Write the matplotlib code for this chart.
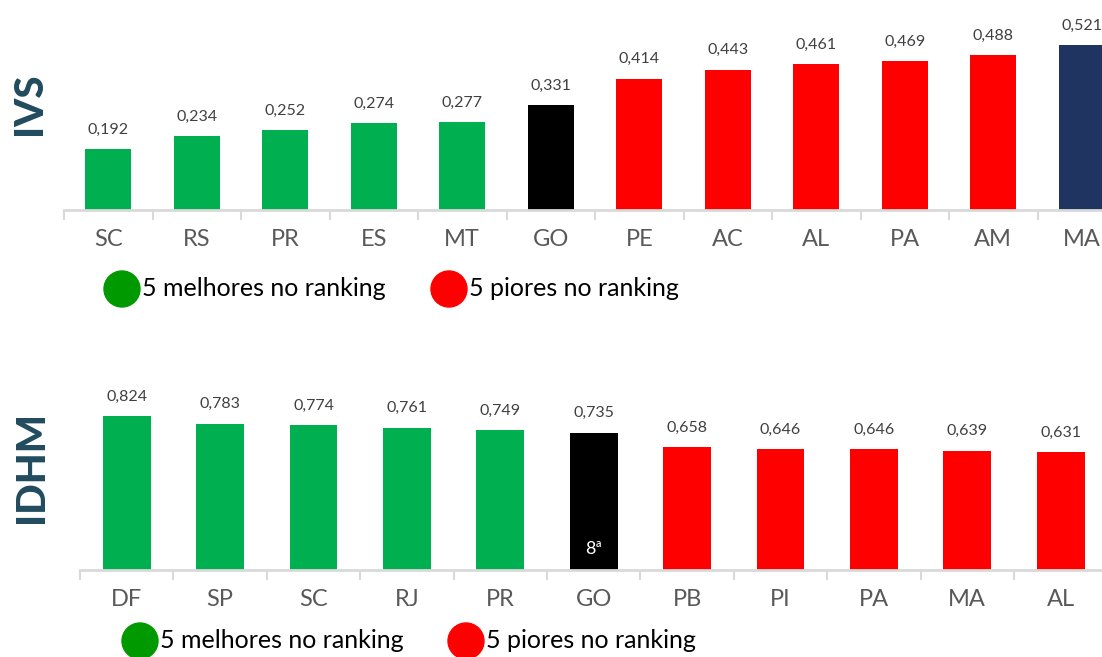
import numpy as np
import matplotlib
matplotlib.use('Agg')
import matplotlib.pyplot as plt
from matplotlib.patches import Ellipse

plt.rcParams['font.family'] = ['Lato', 'DejaVu Sans']

# IVS panel
ivs_states = ['SC', 'RS', 'PR', 'ES', 'MT', 'GO', 'PE', 'AC', 'AL', 'PA', 'AM', 'MA']
ivs_values = [0.192, 0.234, 0.252, 0.274, 0.277, 0.331, 0.414, 0.443, 0.461, 0.469, 0.488, 0.521]
ivs_groups = ['best'] * 5 + ['GO'] + ['worst'] * 5 + ['last']

# IDHM panel
idhm_states = ['DF', 'SP', 'SC', 'RJ', 'PR', 'GO', 'PB', 'PI', 'PA', 'MA', 'AL']
idhm_values = [0.824, 0.783, 0.774, 0.761, 0.749, 0.735, 0.658, 0.646, 0.646, 0.639, 0.631]
idhm_groups = ['best'] * 5 + ['GO'] + ['worst'] * 5
go_rank = '8ª'

legend_labels = ['5 melhores no ranking', '5 piores no ranking']

group_colors = {'best': '#00B050', 'worst': '#FF0000', 'GO': '#000000', 'last': '#1F3461'}
title_color = '#214B5E'
W, H = 1102, 657

fig = plt.figure(figsize=(W / 100, H / 100), dpi=100)


def bar_panel(rect, states, values, groups, ymax, width, title, title_xy):
    ax = fig.add_axes(rect)
    x = np.arange(len(states))
    colors = [group_colors[g] for g in groups]
    bars = ax.bar(x, values, width=width, color=colors)
    for b, v in zip(bars, values):
        ax.annotate(('%.3f' % v).replace('.', ','), (b.get_x() + b.get_width() / 2, v),
                    xytext=(0, 9), textcoords='offset points', ha='center', va='bottom',
                    fontsize=11.5, color='#404040')
    ax.set_xlim(-0.5, len(states) - 0.5)
    ax.set_ylim(0, ymax)
    ax.set_xticks(np.arange(len(states) + 1) - 0.5)
    ax.set_xticklabels([])
    ax.tick_params(axis='x', which='major', length=7, width=1.5, color='#D9D9D9')
    ax.set_xticks(x, minor=True)
    ax.set_xticklabels(states, minor=True, fontsize=17, color='#595959')
    ax.tick_params(axis='x', which='minor', length=0, pad=14)
    ax.set_yticks([])
    for s in ['top', 'right', 'left']:
        ax.spines[s].set_visible(False)
    ax.spines['bottom'].set_color('#D9D9D9')
    ax.spines['bottom'].set_linewidth(2)
    ax.patch.set_visible(False)
    fig.text(title_xy[0] / W, 1 - title_xy[1] / H, title, rotation=90, ha='center', va='center',
             fontsize=29, fontweight='black', color=title_color)
    return ax, bars


def legend_row(cy, gx, rx):
    for cx, col, lab in [(gx, '#009A00', legend_labels[0]), (rx, '#FF0000', legend_labels[1])]:
        fig.patches.append(Ellipse((cx / W, 1 - cy / H), 36 / W, 36 / H,
                                   transform=fig.transFigure, color=col, zorder=3))
        fig.text((cx + 20) / W, 1 - cy / H, lab, ha='left', va='center',
                 fontsize=18, color='black')


# top panel: axis line at y=210 px, 88.5 px per category
bar_panel([64 / W, 1 - 210 / H, 12 * 88.5 / W, 190 / H], ivs_states, ivs_values, ivs_groups,
          190 / 316.7, 0.52, 'IVS', (30, 104))
legend_row(289, 122, 449)

# bottom panel: axis line at y=570 px, 93.4 px per category
ax2, bars2 = bar_panel([80 / W, 1 - 570 / H, 11 * 93.4 / W, 170 / H], idhm_states, idhm_values,
                       idhm_groups, 170 / 187.0, 0.51, 'IDHM', (32, 467))
go = bars2[idhm_states.index('GO')]
ax2.annotate(go_rank, (go.get_x() + go.get_width() / 2, 0), xytext=(0, 9),
             textcoords='offset points', ha='center', va='bottom', fontsize=13, color='white')
legend_row(641, 140, 466)

fig.savefig('out.png', dpi=100)
